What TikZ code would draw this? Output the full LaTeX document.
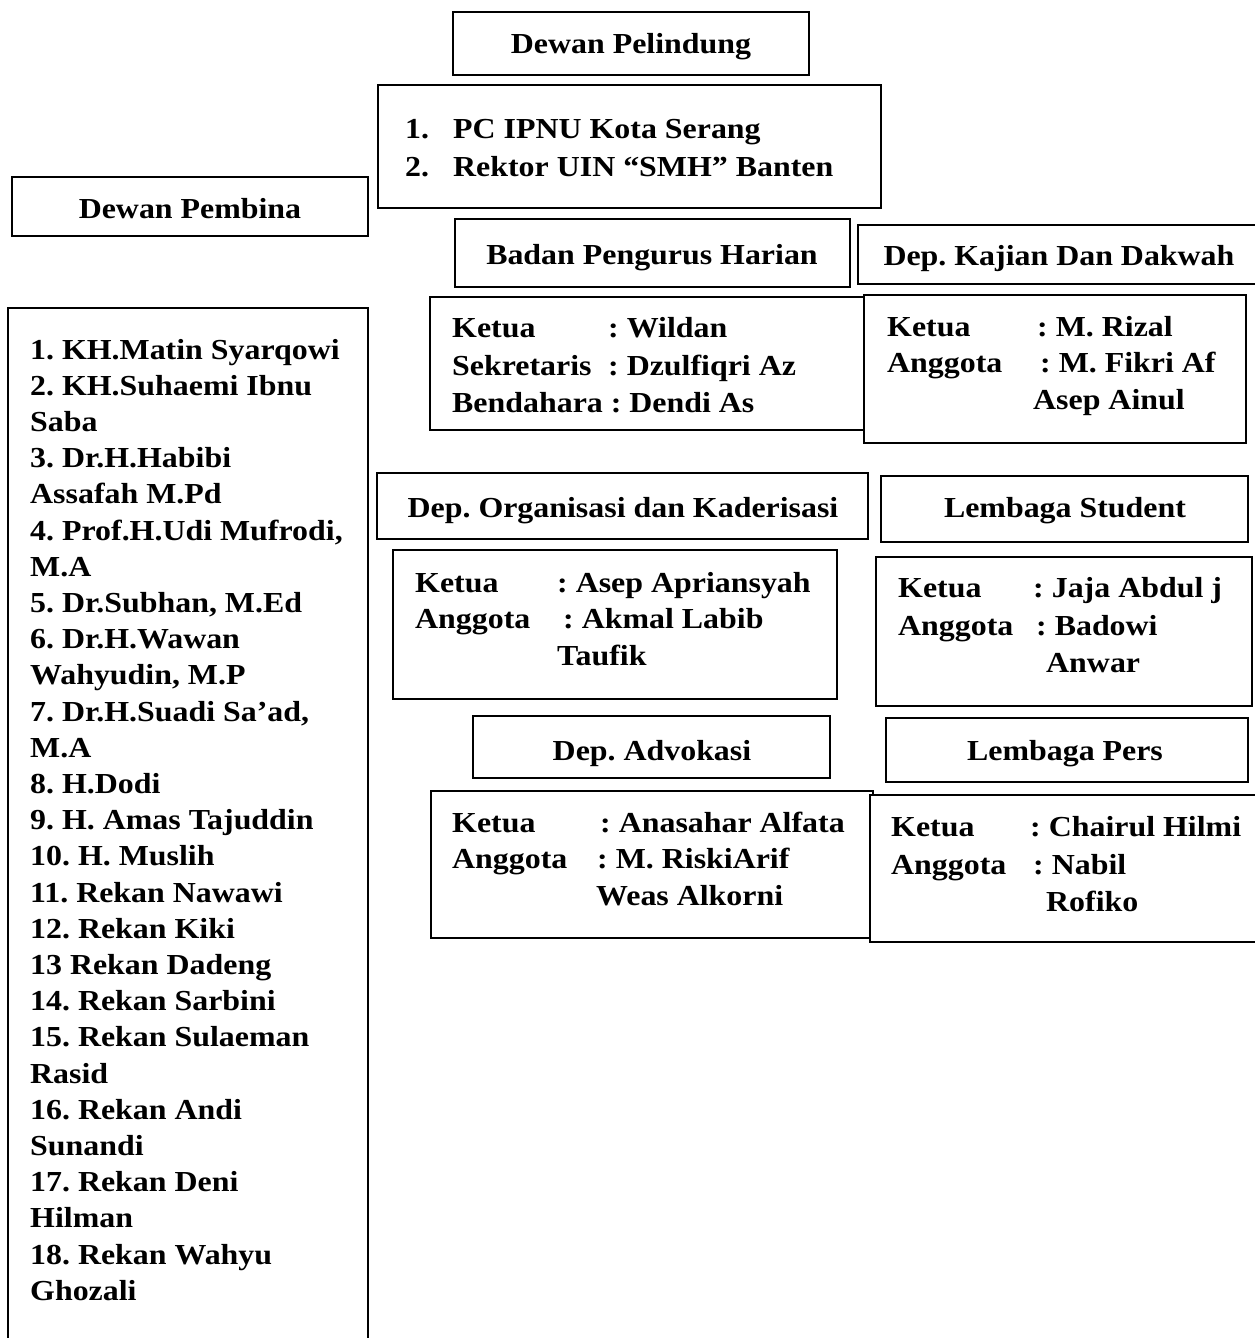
\documentclass[tikz,border=0pt]{standalone}
\usepackage{fontspec}
\setmainfont{Liberation Serif}[FakeStretch=1.1]
\frenchspacing
\tikzset{
  box/.style={draw, line width=2.2pt, fill=white, inner sep=0pt, outer sep=0pt, anchor=north west},
  txt/.style={anchor=base west, inner sep=0pt, font=\fontsize{29}{36}\selectfont\bfseries\frenchspacing},
  hd/.style={anchor=base, inner sep=0pt, font=\fontsize{29}{36}\selectfont\bfseries\frenchspacing}
}
\begin{document}
\begin{tikzpicture}[x=1pt,y=-1pt]
\path[use as bounding box, fill=white] (0,0) rectangle (1255,1338);

% Dewan Pelindung
\node[box, minimum width=356pt, minimum height=63pt] (pel) at (453,12) {};
\node[hd] (tpel) at (631,54) {Dewan Pelindung};
\node[box, minimum width=503pt, minimum height=123pt] (pellist) at (378,85) {};
\node[txt] (pl1) at (405,138) {\makebox[48pt][l]{1.}PC IPNU Kota Serang};
\node[txt] (pl2) at (405,176) {\makebox[48pt][l]{2.}Rektor UIN “SMH” Banten};

% Dewan Pembina
\node[box, minimum width=356pt, minimum height=59pt] (pemb) at (12,177) {};
\node[hd] (tpemb) at (190,218) {Dewan Pembina};
\node[box, minimum width=360pt, minimum height=1045pt] (pemblist) at (8,308) {};
\foreach \t [count=\i] in {
  1. KH.Matin Syarqowi, 2. KH.Suhaemi Ibnu, Saba, 3. Dr.H.Habibi, Assafah M.Pd,
  {4. Prof.H.Udi Mufrodi,}, M.A, {5. Dr.Subhan, M.Ed}, 6. Dr.H.Wawan, {Wahyudin, M.P},
  {7. Dr.H.Suadi Sa’ad,}, M.A, 8. H.Dodi, 9. H. Amas Tajuddin, 10. H. Muslih,
  11. Rekan Nawawi, 12. Rekan Kiki, 13 Rekan Dadeng, 14. Rekan Sarbini,
  15. Rekan Sulaeman, Rasid, 16. Rekan Andi, Sunandi, 17. Rekan Deni, Hilman,
  18. Rekan Wahyu, Ghozali}
  \node[txt] (pb\i) at (30,{359+36.2*(\i-1)}) {\t};

% Badan Pengurus Harian
\node[box, minimum width=395pt, minimum height=68pt] (bph) at (455,219) {};
\node[hd] (tbph) at (652,264) {Badan Pengurus Harian};
\node[box, minimum width=404pt, minimum height=59pt] (kaj) at (858,225) {};
\node[hd] (tkaj) at (1059,265) {Dep. Kajian Dan Dakwah};

\node[box, minimum width=436pt, minimum height=133pt] (bphlist) at (430,297) {};
\node[txt] (bk1) at (452,337) {\makebox[156pt][l]{Ketua}: Wildan};
\node[txt] (bk2) at (452,375) {\makebox[156pt][l]{Sekretaris}: Dzulfiqri Az};
\node[txt] (bk3) at (452,412) {Bendahara : Dendi As};

\node[box, minimum width=382pt, minimum height=148pt] (kajlist) at (864,295) {};
\node[txt] (kk1) at (887,336) {\makebox[150pt][l]{Ketua}: M. Rizal};
\node[txt] (kk2) at (887,372) {\makebox[153pt][l]{Anggota}: M. Fikri Af};
\node[txt] (kk3) at (1033,409) {Asep Ainul};

% Organisasi / Student
\node[box, minimum width=491pt, minimum height=66pt] (org) at (377,473) {};
\node[hd] (torg) at (623,517) {Dep. Organisasi dan Kaderisasi};
\node[box, minimum width=367pt, minimum height=66pt] (stu) at (881,476) {};
\node[hd] (tstu) at (1065,517) {Lembaga Student};

\node[box, minimum width=444pt, minimum height=149pt] (orglist) at (393,550) {};
\node[txt] (ok1) at (415,592) {\makebox[142pt][l]{Ketua}: Asep Apriansyah};
\node[txt] (ok2) at (415,628) {\makebox[148pt][l]{Anggota}: Akmal Labib};
\node[txt] (ok3) at (557,665) {Taufik};

\node[box, minimum width=376pt, minimum height=149pt] (stulist) at (876,557) {};
\node[txt] (sk1) at (898,597) {\makebox[135pt][l]{Ketua}: Jaja Abdul j};
\node[txt] (sk2) at (898,635) {\makebox[138pt][l]{Anggota}: Badowi};
\node[txt] (sk3) at (1046,672) {Anwar};

% Advokasi / Pers
\node[box, minimum width=357pt, minimum height=62pt] (adv) at (473,716) {};
\node[hd] (tadv) at (652,760) {Dep. Advokasi};
\node[box, minimum width=362pt, minimum height=64pt] (pers) at (886,718) {};
\node[hd] (tpers) at (1065,760) {Lembaga Pers};

\node[box, minimum width=442pt, minimum height=147pt] (advlist) at (431,791) {};
\node[txt] (ak1) at (452,832) {\makebox[148pt][l]{Ketua}: Anasahar Alfata};
\node[txt] (ak2) at (452,868) {\makebox[145pt][l]{Anggota}: M. RiskiArif};
\node[txt] (ak3) at (596,905) {Weas Alkorni};

\node[box, minimum width=392pt, minimum height=147pt] (perslist) at (870,795) {};
\node[txt] (rk1) at (891,836) {\makebox[139pt][l]{Ketua}: Chairul Hilmi};
\node[txt] (rk2) at (891,874) {\makebox[142pt][l]{Anggota}: Nabil};
\node[txt] (rk3) at (1046,911) {Rofiko};
\end{tikzpicture}
\end{document}
